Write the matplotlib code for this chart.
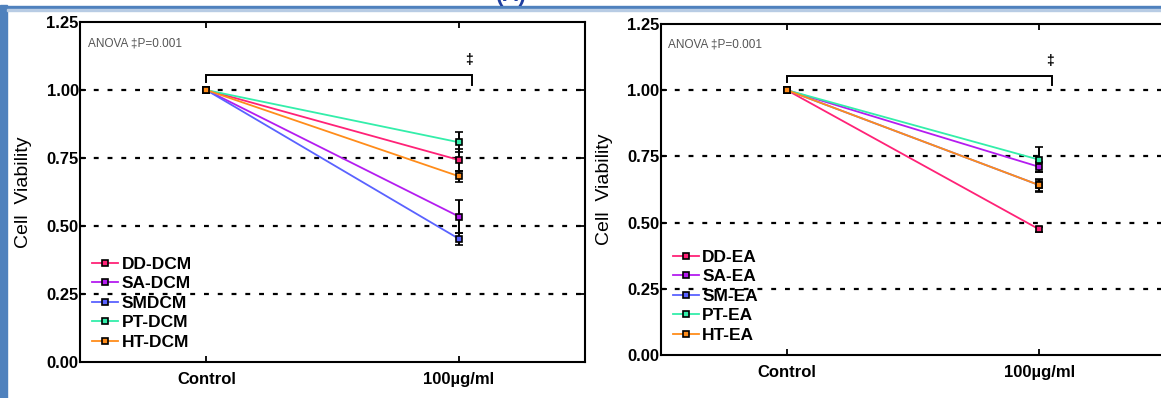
import matplotlib
matplotlib.use('Agg')
from matplotlib import pyplot as plt
from matplotlib import patches
from matplotlib.lines import Line2D

plt.rcParams['font.family'] = ['Liberation Sans', 'DejaVu Sans']

# x categories
doses = ['Control', '100µg/ml']

# DCM fractions (left panel)
dcm_labels = ['DD-DCM', 'SA-DCM', 'SMDCM', 'PT-DCM', 'HT-DCM']
dcm_means = [[1.0, 0.743], [1.0, 0.535], [1.0, 0.453], [1.0, 0.808], [1.0, 0.683]]
dcm_errs = [[0.0, 0.04], [0.0, 0.062], [0.0, 0.022], [0.0, 0.037], [0.0, 0.02]]

# EA fractions (right panel)
ea_labels = ['DD-EA', 'SA-EA', 'SM-EA', 'PT-EA', 'HT-EA']
ea_means = [[1.0, 0.474], [1.0, 0.71], [1.0, 0.641], [1.0, 0.737], [1.0, 0.641]]
ea_errs = [[0.0, 0.008], [0.0, 0.02], [0.0, 0.02], [0.0, 0.048], [0.0, 0.025]]

COLORS = ['#FF2277', '#B41CF0', '#5A62FF', '#33EEAA', '#FF8C1A']

fig = plt.figure(figsize=(11.61, 3.98), dpi=100)

# blue frame of the original slide
fig.patches.append(patches.Rectangle((0.0, 0.0), 0.006, 0.988, transform=fig.transFigure,
                                     color='#4F81BD', zorder=0))
fig.patches.append(patches.Rectangle((0.0, 0.978), 1.0, 0.008, transform=fig.transFigure,
                                     color='#4F81BD', zorder=0))
fig.patches.append(patches.Rectangle((0.006, 0.972), 1.0, 0.006, transform=fig.transFigure,
                                     color='#B8CCE4', zorder=0))
# panel letter, cut off by the top edge like in the source slide
fig.text(0.44, 0.986, '(A)', color='#1F3FA0', fontsize=16, fontweight='bold',
         va='bottom', ha='center')


def draw_panel(rect, labels, means, errs, leg_y):
    ax = fig.add_axes(rect)
    x = list(range(len(doses)))
    handles = []
    for lab, m, e, c in zip(labels, means, errs, COLORS):
        ax.errorbar(x, m, yerr=e, color=c, lw=1.3, marker='s', ms=5,
                    mfc=c, mec='black', mew=1.2, ecolor='black', elinewidth=1.4,
                    capsize=3, capthick=1.4)
        handles.append(Line2D([], [], color=c, lw=1.3, marker='s', ms=5,
                              mfc=c, mec='black', mew=1.2, label=lab))
    for yv in [0.25, 0.5, 0.75, 1.0]:
        ax.axhline(yv, color='black', lw=1.6, ls=(0, (2.2, 4)), zorder=0)
    ax.set_xlim(-0.5, 1.5)
    ax.set_ylim(0, 1.25)
    ax.set_yticks([0, 0.25, 0.5, 0.75, 1.0, 1.25])
    ax.set_yticklabels(['0.00', '0.25', '0.50', '0.75', '1.00', '1.25'])
    ax.set_xticks(x)
    ax.set_xticklabels(doses)
    ax.tick_params(direction='in', length=4, width=1.3, top=True, right=True,
                   labelsize=12, pad=7)
    for t in ax.get_xticklabels() + ax.get_yticklabels():
        t.set_fontweight('bold')
    ax.tick_params(axis='y', pad=1)
    for s in ax.spines.values():
        s.set_linewidth(1.5)
    ax.set_ylabel('Cell  Viability', fontsize=14, labelpad=10)

    # significance bracket
    ax.plot([0, 0, 1.05, 1.05], [1.03, 1.055, 1.055, 1.02], color='black', lw=1.4,
            solid_joinstyle='miter')
    ax.text(1.04, 1.11, '‡', ha='center', va='center', fontsize=10, fontweight='bold')
    ax.text(0.015, 0.955, 'ANOVA ‡P=0.001', transform=ax.transAxes, fontsize=8.5,
            color='#555555', va='top')

    ax.legend(handles=handles, loc='lower left', bbox_to_anchor=(0.0, leg_y),
              frameon=False, prop={'weight': 'bold', 'size': 12.5}, handlelength=1.5,
              handletextpad=0.2, labelspacing=0.25, borderaxespad=0.3)
    return ax


draw_panel([0.069, 0.0905, 0.435, 0.854], dcm_labels, dcm_means, dcm_errs, 0.0)
draw_panel([0.569, 0.108, 0.435, 0.832], ea_labels, ea_means, ea_errs, 0.0)

fig.savefig('out.png', dpi=100)
